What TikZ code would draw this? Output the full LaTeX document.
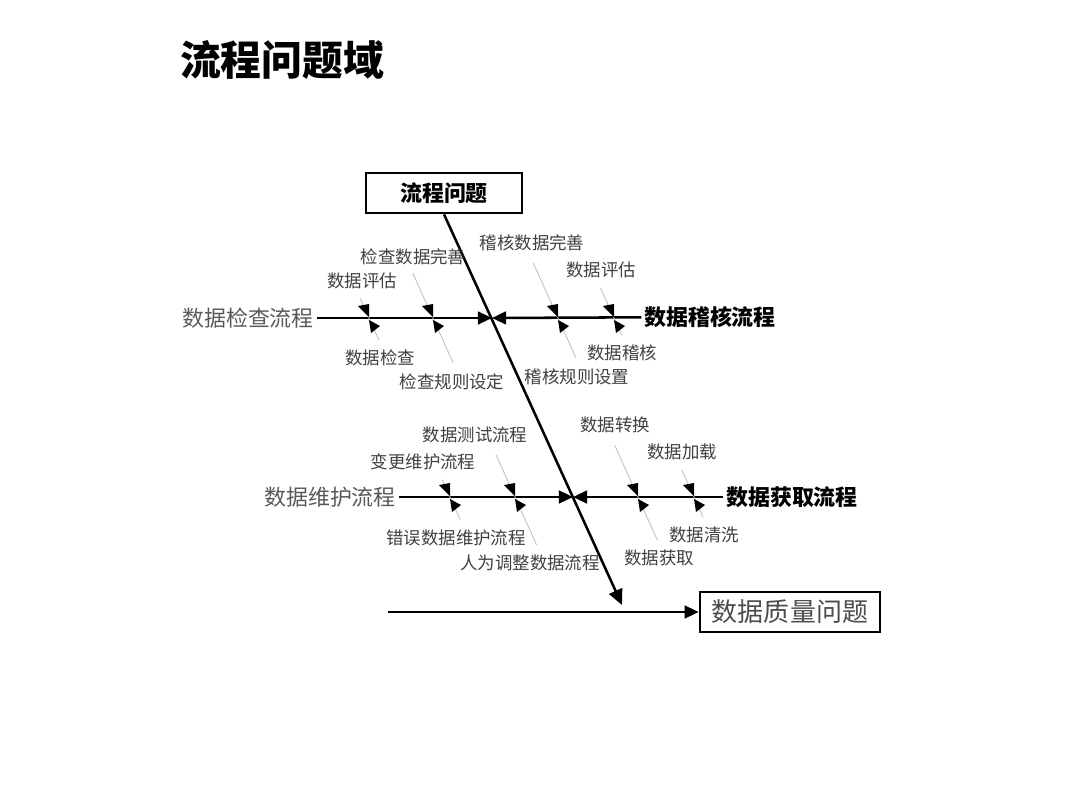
\documentclass[tikz,border=0pt]{standalone}
\usepackage{fontspec}
\setmainfont{Noto Sans CJK SC}
\usetikzlibrary{arrows.meta}

\tikzset{
  bone/.style={line width=1.8pt, -{Triangle[length=10pt,width=9pt]}},
  rib/.style={gray!50, line width=0.6pt},
  tick/.style={fill=black},
  sublbl/.style={text=black!75, font=\fontsize{12.4}{14}\selectfont, inner sep=0pt},
  mainlbl/.style={text=black!65, font=\fontsize{15.6}{18}\selectfont, inner sep=0pt, outer sep=2pt},
  mainlblb/.style={text=black, font=\bfseries\fontsize{15.6}{18}\selectfont, inner sep=0pt, outer sep=2pt},
  probbox/.style={draw, line width=1.8pt, inner sep=0pt, minimum height=1cm}
}

\begin{document}
\begin{tikzpicture}[x=0.025cm, y=-0.025cm]
  \useasboundingbox (0,0) rectangle (1080,810);
  \node[font=\bfseries\fontsize{29}{34}\selectfont] (title) at (282,60) {流程问题域};

  % head boxes
  \node[probbox, minimum width=3.9cm, font=\bfseries\fontsize{15.6}{18}\selectfont] (cause) at (444,193) {流程问题};
  \node[probbox, minimum width=4.5cm, text=black!70, font=\fontsize{18.5}{22}\selectfont] (effect) at (790,612) {数据质量问题};

  % spine
  \coordinate (tip) at (622,605);
  \coordinate (j1) at (492,318);
  \coordinate (j2) at (573,497);
  \coordinate (tail) at (388,612);
  \draw[bone, -{Triangle[length=11pt,width=10pt]}] (cause.south) -- (tip);
  \draw[bone] (tail) -- (effect.west);

  % branches
  \node[mainlbl] (chk) at (248,318) {数据检查流程};
  \node[mainlblb] (aud) at (710,317) {数据稽核流程};
  \node[mainlbl] (mnt) at (330,497) {数据维护流程};
  \node[mainlblb] (acq) at (792,497) {数据获取流程};
  \draw[bone] (chk) -- (j1);
  \draw[bone] (aud) -- (j1);
  \draw[bone] (mnt) -- (j2);
  \draw[bone] (acq) -- (j2);

  % small ribs
  \foreach \xc/\yl/\yt/\yb [count=\i] in {369/318/298/340, 433/318/273/363, 558/318/263/358, 614/318/288/335,
      450/497/480/520, 515/497/455/545, 638/497/445/540, 694/497/470/517}{
    \coordinate (rt\i) at ({\xc-0.45*(\yl-\yt)},\yt);
    \coordinate (rb\i) at ({\xc+0.45*(\yb-\yl)},\yb);
    \draw[rib] (rt\i) -- (rb\i);
    \fill[tick] (\xc,\yl) ++(-11,-12) -- ++(11,-2) -- ++(0,13) -- cycle;
    \fill[tick] (\xc,\yl) ++(0,2) -- ++(11,6) -- ++(-9,7) -- cycle;
  }

  % sub causes
  \node[sublbl] (c1) at (413,257) {检查数据完善};
  \node[sublbl] (c2) at (362,281) {数据评估};
  \node[sublbl] (c3) at (380,358) {数据检查};
  \node[sublbl] (c4) at (452,382) {检查规则设定};
  \node[sublbl] (c5) at (532,243) {稽核数据完善};
  \node[sublbl] (c6) at (601,270) {数据评估};
  \node[sublbl] (c7) at (622,353) {数据稽核};
  \node[sublbl] (c8) at (577,377) {稽核规则设置};
  \node[sublbl] (c9) at (475,435) {数据测试流程};
  \node[sublbl] (c10) at (423,462) {变更维护流程};
  \node[sublbl] (c11) at (456,538) {错误数据维护流程};
  \node[sublbl] (c12) at (530,563) {人为调整数据流程};
  \node[sublbl] (c13) at (615,425) {数据转换};
  \node[sublbl] (c14) at (682,452) {数据加载};
  \node[sublbl] (c15) at (704,535) {数据清洗};
  \node[sublbl] (c16) at (659,558) {数据获取};
\end{tikzpicture}
\end{document}
